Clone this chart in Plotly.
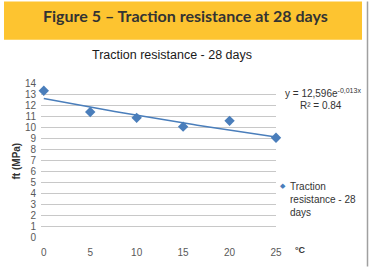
import plotly.graph_objects as go
import numpy as np

# ---- data ----
temps = [0, 5, 10, 15, 20, 25]
traction = [13.3, 11.37, 10.83, 10.03, 10.56, 9.02]
trend_a = 12.596
trend_b = -0.013
r2_text = "R² = 0.84"
eq_text = "y = 12,596e<sup>-0,013x</sup>"
y_ticks = list(range(0, 15))
x_ticks = [0, 5, 10, 15, 20, 25]
series_name = "Traction<br>resistance - 28<br>days"

W, H = 370, 270
L, R, T, B = 41, 276, 83, 240  # plot area in px

def px(x):
    return (x - L) / (R - L)

def py(y):
    return (B - y) / (B - T)

blue = "#4A7EBB"

x_fit = np.linspace(min(temps), max(temps), 60)
y_fit = trend_a * np.exp(trend_b * x_fit)

fig = go.Figure()
fig.add_trace(go.Scatter(x=x_fit, y=y_fit, mode="lines",
                         line=dict(color=blue, width=1.5), showlegend=False,
                         hoverinfo="skip"))
fig.add_trace(go.Scatter(x=temps, y=traction, mode="markers",
                         marker=dict(symbol="diamond", size=8, color=blue),
                         name=series_name, showlegend=False, cliponaxis=False))

font = "Liberation Sans, Arial, sans-serif"
fig.update_layout(
    width=W, height=H,
    margin=dict(l=L, r=W - R, t=T, b=H - B),
    paper_bgcolor="white", plot_bgcolor="white",
    showlegend=False,
    font=dict(family=font, size=10, color="#595959"),
    title=dict(text="Traction resistance - 28 days", xref="container", yref="container",
               x=172 / W, y=1 - 55 / H, xanchor="center", yanchor="middle",
               font=dict(family=font, size=12.5, color="#1a1a1a")),
    xaxis=dict(range=[-0.3, 25], tickvals=x_ticks, showgrid=False, zeroline=False,
               showline=False, ticks="", ticklabelstandoff=8,
               tickfont=dict(size=10, color="#595959")),
    yaxis=dict(range=[0, 14], tickvals=y_ticks, showgrid=True, gridcolor="#C8C8C8",
               gridwidth=1, zeroline=False, showline=False, ticks="", ticklabelstandoff=4,
               tickfont=dict(size=10, color="#595959")),
    shapes=[
        dict(type="rect", xref="paper", yref="paper", x0=px(4), x1=px(362),
             y0=py(0), y1=py(39), fillcolor="#FDC430", line=dict(width=0), layer="below"),
        dict(type="line", xref="paper", yref="paper", x0=px(367.5), x1=px(367.5),
             y0=py(0), y1=py(270), line=dict(color="#A0A0A0", width=1.5)),
    ],
    annotations=[
        dict(text="<b>Figure 5 – Traction resistance at 28 days</b>", xref="paper", yref="paper",
             x=px(185), y=py(14), showarrow=False, xanchor="center", yanchor="middle",
             font=dict(family="Lato, sans-serif", size=16, color="#333333")),
        dict(text="<b>ft (MPa)</b>", xref="paper", yref="paper", x=px(16), y=py(163),
             textangle=-90, showarrow=False, xanchor="center", yanchor="middle",
             font=dict(family=font, size=10, color="#333333")),
        dict(text="<b>°C</b>", xref="paper", yref="paper", x=px(293), y=py(253),
             showarrow=False, xanchor="left", yanchor="middle",
             font=dict(family=font, size=9, color="#333333")),
        dict(text=eq_text, xref="paper", yref="paper", x=px(283), y=py(93),
             showarrow=False, xanchor="left", yanchor="middle",
             font=dict(family=font, size=10, color="#333333")),
        dict(text=r2_text, xref="paper", yref="paper", x=px(298), y=py(106),
             showarrow=False, xanchor="left", yanchor="middle",
             font=dict(family=font, size=10, color="#333333")),
        dict(text="◆", xref="paper", yref="paper", x=px(283), y=py(188),
             showarrow=False, xanchor="center", yanchor="middle",
             font=dict(family="DejaVu Sans", size=7, color=blue)),
        dict(text=series_name, xref="paper", yref="paper", x=px(288), y=py(181),
             showarrow=False, xanchor="left", yanchor="top", align="left",
             font=dict(family=font, size=10, color="#333333")),
    ],
)

fig.write_html("out.html")
